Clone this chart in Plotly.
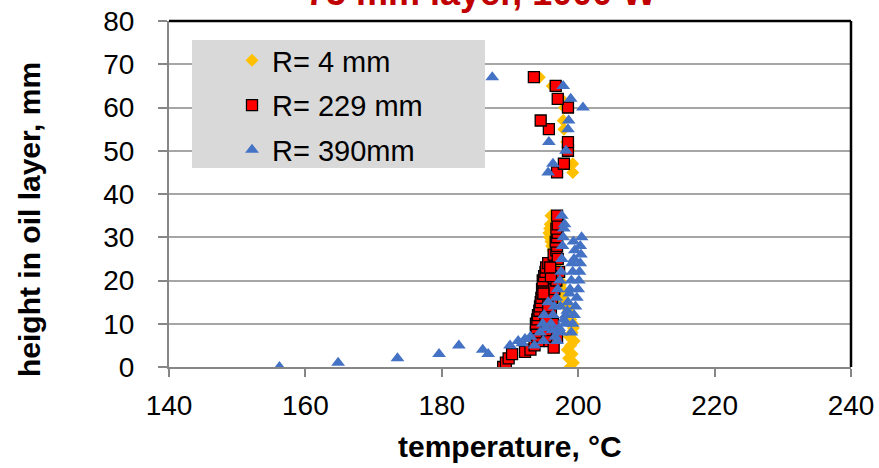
import plotly.graph_objects as go

# ---- data ----
r4_temp = [198.8, 199.3, 198.6, 199.1, 198.4, 198.9, 199.4, 198.7, 199.1, 199.3,
           199.2, 198.9, 199.0, 198.6, 198.2, 197.9, 197.7, 197.8, 197.6, 197.4,
           197.3, 197.2, 197.0, 196.9, 196.8, 196.6, 196.5, 196.3, 196.1, 196.0,
           195.8, 195.7, 195.8, 195.9, 196.0,
           199.2, 199.2, 198.6, 198.3, 197.9, 197.8, 198.0, 197.5, 196.2, 194.3]
r4_height = [0, 1, 2, 3, 4, 5, 6, 7, 8, 9,
             10, 11, 12, 13, 14, 15, 16, 17, 18, 19,
             20, 21, 22, 23, 24, 25, 26, 27, 28, 29,
             30, 31, 32, 33, 35,
             45, 47, 50, 52, 55, 57, 60, 62, 65, 67]

r229_temp = [189.0, 189.4, 189.8, 190.3, 192.2, 193.0, 193.6, 194.2, 194.0, 193.8,
             193.9, 193.8, 194.0, 194.1, 194.3, 194.4, 194.5, 194.6, 194.8, 194.7,
             194.9, 194.8, 195.0, 195.2, 195.3, 195.6, 196.6, 196.4, 196.8, 196.9,
             196.7, 196.9, 197.0, 196.8, 197.0, 196.9,
             195.5, 196.0, 196.2, 196.5, 196.8, 197.2, 195.8, 196.3, 195.6,
             196.4, 196.9, 195.2, 196.0, 197.0, 194.9, 195.9,
             196.9, 197.9, 198.5, 198.5, 195.7, 194.5, 198.5, 197.0, 196.7, 193.5]
r229_height = [0, 1, 2, 3, 3.5, 4, 5, 6, 7, 8,
               9, 10, 11, 12, 13, 14, 15, 16, 17, 18,
               19, 20, 21, 22, 23, 24, 25.5, 26, 27, 28,
               29, 30, 31, 32, 33, 35,
               8, 12, 16, 18, 20, 22, 6, 10, 14,
               4.5, 7, 11, 21, 25, 17, 23,
               45, 47, 50, 52, 55, 57, 60, 62, 65, 67]

r390_temp = [156.2, 164.8, 173.5, 179.6, 182.5, 186.0, 186.8,
             190.0, 191.2, 192.2, 193.0, 194.4, 195.2, 196.0, 196.3, 196.5, 196.8,
             197.0, 197.3, 197.5, 197.6, 197.7, 197.8, 197.9, 198.0, 197.6,
             199.0, 199.2, 199.4, 199.6, 199.8, 200.0, 200.1, 200.2, 200.3, 200.4,
             200.3, 200.5,
             198.2, 198.5, 198.8, 199.0, 199.2, 199.4, 199.5, 199.3,
             195.6, 195.0, 194.8,
             196.6, 197.2, 197.9, 198.4, 196.9, 197.5, 198.1, 198.7, 199.1, 197.4,
             191.8, 193.6, 194.9, 196.2,
             187.4, 197.8, 198.9, 200.7, 198.6, 198.5, 195.7, 198.2, 196.3, 195.6]
r390_height = [0, 1, 2, 3, 5, 4, 3,
               5, 6, 6.5, 7, 8, 9, 10, 12, 14, 16,
               18, 20, 22, 25, 28, 30, 32, 33, 35,
               8, 10, 12, 14, 16, 18, 20, 22, 24, 26,
               28, 30,
               12, 15, 18, 20, 22, 25, 27, 29,
               15, 12, 10,
               7, 9, 11, 13, 6, 8, 10, 17, 24, 14,
               5.5, 5, 6, 8.5,
               67, 65, 62, 60, 57, 55, 52, 50, 47, 45]

series_names = ["R= 4 mm", "R= 229 mm", "R= 390mm"]
x_ticks = [140, 160, 180, 200, 220, 240]
y_ticks = [0, 10, 20, 30, 40, 50, 60, 70, 80]

FONT = "Arial, Liberation Sans, sans-serif"

fig = go.Figure()
fig.add_trace(go.Scatter(
    x=r4_temp, y=r4_height, mode="markers", name=series_names[0], legendgroup="a",
    marker=dict(symbol="diamond", size=10, color="#FFC000")))
fig.add_trace(go.Scatter(
    x=r229_temp, y=r229_height, mode="markers", name=series_names[1], legendgroup="b",
    marker=dict(symbol="square", size=11, color="#FF0000",
                line=dict(color="#000000", width=1.3))))
fig.add_trace(go.Scatter(
    x=r390_temp, y=r390_height, mode="markers", name=series_names[2], legendgroup="c",
    marker=dict(symbol="triangle-up", size=12, color="#4472C4")))

L, R, T, B = 169, 28, 21, 101
W, H = 879, 468
pw = W - L - R
ph = H - T - B

def px_x(p):
    return (p - L) / pw

def px_y(p):
    return (H - B - p) / ph

fig.update_layout(
    width=W, height=H,
    margin=dict(l=L, r=R, t=T, b=B, pad=0, autoexpand=False),
    paper_bgcolor="white", plot_bgcolor="white",
    font=dict(family=FONT, color="#000000"),
    showlegend=True,
    legend=dict(x=px_x(232), y=px_y(35), xanchor="left", yanchor="top",
                bgcolor="rgba(0,0,0,0)", borderwidth=0,
                font=dict(size=29, family=FONT, color="#000000"),
                tracegroupgap=4, itemwidth=30),
    xaxis=dict(range=[140, 240], tickvals=x_ticks, ticktext=[str(v) for v in x_ticks],
               automargin=False,
               showgrid=False, zeroline=False, showline=True, linecolor="#868686",
               linewidth=2, ticks="outside", ticklen=8, tickwidth=2, tickcolor="#868686",
               tickfont=dict(size=28, family=FONT, color="#000000"),
               ticklabelstandoff=4),
    yaxis=dict(range=[0, 80], tickvals=y_ticks, ticktext=[str(v) for v in y_ticks],
               automargin=False,
               showgrid=True, gridcolor="#A6A6A6", gridwidth=1.5, zeroline=False,
               showline=True, linecolor="#868686", linewidth=2,
               ticks="outside", ticklen=9, tickwidth=2, tickcolor="#868686",
               tickfont=dict(size=28, family=FONT, color="#000000"),
               ticklabelstandoff=18),
    shapes=[
        dict(type="rect", xref="paper", yref="paper",
             x0=px_x(192), x1=px_x(485), y0=px_y(168), y1=px_y(40),
             fillcolor="#D9D9D9", line=dict(width=0), layer="above"),
        dict(type="line", xref="paper", yref="paper", x0=0, x1=1, y0=1, y1=1,
             line=dict(color="#000000", width=2.5), layer="above"),
        dict(type="line", xref="paper", yref="paper", x0=1, x1=1, y0=0, y1=1,
             line=dict(color="#000000", width=2.5), layer="above"),
    ],
    annotations=[
        dict(text="<b>75 mm layer, 1000 W</b>", xref="paper", yref="paper",
             x=px_x(481), y=px_y(15), xanchor="center", yanchor="bottom",
             showarrow=False, font=dict(size=36, family=FONT, color="#C00000")),
        dict(text="<b>temperature, °C</b>", xref="paper", yref="paper",
             x=px_x(510), y=px_y(447), xanchor="center", yanchor="middle",
             showarrow=False, font=dict(size=30, family=FONT, color="#000000")),
        dict(text="<b>height in oil layer, mm</b>", xref="paper", yref="paper",
             x=px_x(29), y=px_y(220), xanchor="center", yanchor="middle", textangle=-90,
             showarrow=False, font=dict(size=30, family=FONT, color="#000000")),
    ],
)

fig.write_html("out.html")
